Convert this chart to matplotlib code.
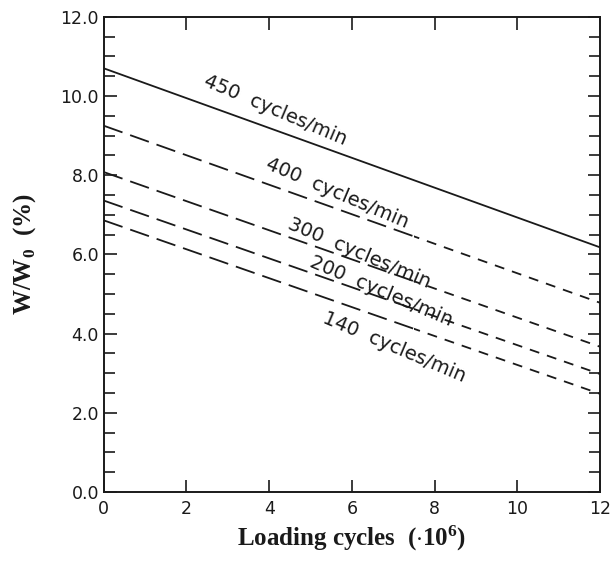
import matplotlib
matplotlib.use("Agg")
import matplotlib.pyplot as plt
from matplotlib.patches import Rectangle
from matplotlib.ticker import MultipleLocator

plt.rcParams["mathtext.fontset"] = "custom"
plt.rcParams["mathtext.rm"] = "Liberation Serif"
plt.rcParams["mathtext.bf"] = "Liberation Serif:bold"

# loading cycles (x 10^6) at the two ends of each line
cycles = [0, 12]
# W/W0 (%) at those ends, one list per loading frequency
w450 = [10.70, 6.18]
w400 = [9.25, 4.78]
w300 = [8.08, 3.67]
w200 = [7.36, 2.98]
w140 = [6.86, 2.48]

labels = ["450  cycles/min", "400  cycles/min", "300  cycles/min",
          "200  cycles/min", "140  cycles/min"]
label_x = [4.14, 5.64, 6.19, 6.70, 7.02]
label_y = [9.65, 7.55, 6.04, 5.08, 3.66]

ink = "#1a1a1a"

fig = plt.figure(figsize=(6.14, 5.61), dpi=100)
ax = fig.add_axes([0.169, 0.123, 0.808, 0.847])

ax.plot(cycles, w450, color=ink, lw=1.3)
# dashes are long on the left and short on the right in the original
left = Rectangle((0, 0), 7.5, 12, transform=ax.transData)
right = Rectangle((7.5, 0), 4.5, 12, transform=ax.transData)
for w in [w400, w300, w200, w140]:
    l1, = ax.plot(cycles, w, color=ink, lw=1.3, dashes=(11, 4.5))
    l1.set_clip_path(left)
    l2, = ax.plot(cycles, w, color=ink, lw=1.3, dashes=(5.5, 4.5))
    l2.set_clip_path(right)

for t, x, y in zip(labels, label_x, label_y):
    ax.text(x, y, t, rotation=-23, ha="center", va="center",
            fontsize=14, color=ink, family="DejaVu Sans")

ax.set_xlim(0, 12)
ax.set_ylim(0, 12)
ax.xaxis.set_major_locator(MultipleLocator(2))
ax.yaxis.set_major_locator(MultipleLocator(2))
ax.yaxis.set_minor_locator(MultipleLocator(0.5))
ax.set_yticklabels([f"{v:.1f}" for v in ax.get_yticks()])
ax.tick_params(which="both", direction="in", top=True, right=True,
               labelsize=12.5, width=1.2, colors=ink)
ax.tick_params(which="major", length=9)
ax.tick_params(which="minor", length=8)
ax.tick_params(axis="x", pad=6)
for s in ax.spines.values():
    s.set_linewidth(1.4)
    s.set_color(ink)

ax.set_xlabel(r"Loading cycles  ($\mathbf{\cdot 10^6}$)", family="Liberation Serif",
              fontweight="bold", fontsize=18, labelpad=4, color=ink)
ax.set_ylabel(r"W/W$_\mathbf{0}$  (%)", family="Liberation Serif",
              fontweight="bold", fontsize=18, labelpad=16, color=ink)

fig.savefig("out.png", dpi=100)
